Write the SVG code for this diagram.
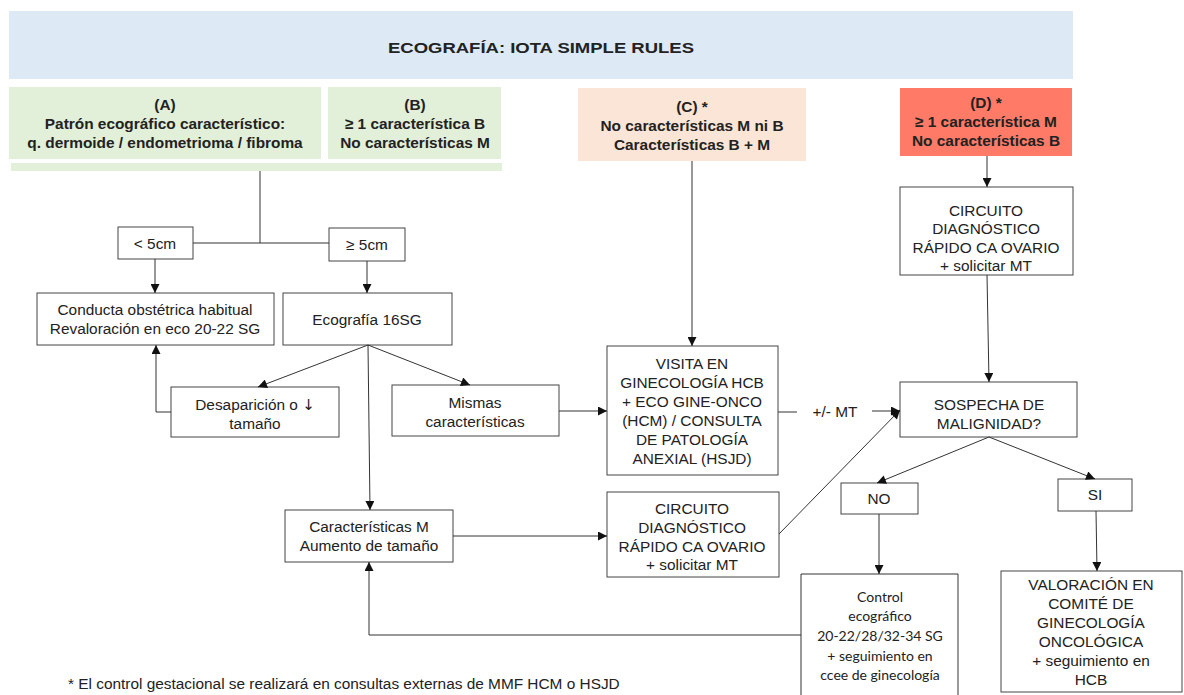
<svg xmlns="http://www.w3.org/2000/svg" width="1184" height="695" viewBox="0 0 1184 695">
<defs>
<marker id="ah" viewBox="0 0 10 10" refX="10" refY="5" markerWidth="10" markerHeight="9" orient="auto" markerUnits="userSpaceOnUse"><path d="M0,0 L10,5 L0,10 z" fill="#111"/></marker>
</defs>
<style>
text{font-family:"Liberation Sans",Arial,sans-serif;font-size:15.4px;fill:#222;text-anchor:middle}
.b{font-weight:bold}
.box{fill:#fff;stroke:#444;stroke-width:1}
.ln{fill:none;stroke:#333;stroke-width:1}
.cal{font-family:Lato,"Liberation Sans",sans-serif;font-size:14px}
</style>
<rect width="1184" height="695" fill="#fff"/>

<g id="title">
<rect x="9" y="11" width="1064" height="68" fill="#dde9f5"/>
<text x="541" y="53" class="b" font-size="19" textLength="306" lengthAdjust="spacingAndGlyphs">ECOGRAFÍA: IOTA SIMPLE RULES</text>
</g>

<g id="nodeA">
<rect x="9" y="87" width="312" height="72" fill="#e2efd9"/>
<text x="165" y="110" class="b">(A)</text>
<text x="165" y="129" class="b">Patrón ecográfico característico:</text>
<text x="165" y="148" class="b">q. dermoide / endometrioma / fibroma</text>
</g>
<g id="nodeB">
<rect x="328" y="87" width="173" height="72" fill="#e2efd9"/>
<text x="415" y="110" class="b">(B)</text>
<text x="415" y="129" class="b">≥ 1 característica B</text>
<text x="415" y="148" class="b">No características M</text>
</g>
<g id="strip">
<rect x="11" y="163" width="491" height="8" fill="#e2efd9"/>
</g>
<g id="nodeC">
<rect x="578" y="88" width="228" height="73" fill="#fbe5d6"/>
<text x="692" y="112" class="b">(C) *</text>
<text x="692" y="131" class="b">No características M ni B</text>
<text x="692" y="150" class="b">Características B + M</text>
</g>
<g id="nodeD">
<rect x="900" y="88" width="172" height="68" fill="#ff7b67"/>
<text x="986" y="108" class="b">(D) *</text>
<text x="986" y="127" class="b">≥ 1 característica M</text>
<text x="986" y="146" class="b">No características B</text>
</g>

<g id="lt5">
<rect class="box" x="118" y="227" width="75" height="32"/>
<text x="155" y="249">&lt; 5cm</text>
</g>
<g id="ge5">
<rect class="box" x="329" y="228" width="76" height="33"/>
<text x="367" y="250">≥ 5cm</text>
</g>
<g id="conducta">
<rect class="box" x="37" y="293" width="237" height="52"/>
<text x="155" y="315">Conducta obstétrica habitual</text>
<text x="155" y="334">Revaloración en eco 20-22 SG</text>
</g>
<g id="eco16">
<rect class="box" x="283" y="293" width="169" height="52"/>
<text x="367" y="325">Ecografía 16SG</text>
</g>
<g id="desap">
<rect class="box" x="171" y="387" width="168" height="50"/>
<text x="255" y="410">Desaparición o <tspan font-family="DejaVu Sans, sans-serif" font-size="15">↓</tspan></text>
<text x="255" y="429">tamaño</text>
</g>
<g id="mismas">
<rect class="box" x="392" y="385" width="167" height="51"/>
<text x="475" y="408">Mismas</text>
<text x="475" y="427">características</text>
</g>
<g id="visita">
<rect class="box" x="607" y="346" width="171" height="129"/>
<text x="692" y="369">VISITA EN</text>
<text x="692" y="388">GINECOLOGÍA HCB</text>
<text x="692" y="407">+ ECO GINE-ONCO</text>
<text x="692" y="426">(HCM) / CONSULTA</text>
<text x="692" y="445">DE PATOLOGÍA</text>
<text x="692" y="464">ANEXIAL (HSJD)</text>
</g>
<g id="carM">
<rect class="box" x="285" y="510" width="168" height="52"/>
<text x="369" y="532">Características M</text>
<text x="369" y="551">Aumento de tamaño</text>
</g>
<g id="circMid">
<rect class="box" x="607" y="492" width="172" height="85"/>
<text x="692" y="514">CIRCUITO</text>
<text x="692" y="533">DIAGNÓSTICO</text>
<text x="692" y="552">RÁPIDO CA OVARIO</text>
<text x="692" y="570">+ solicitar MT</text>
</g>
<g id="circD">
<rect class="box" x="900" y="187" width="173" height="88"/>
<text x="986" y="216">CIRCUITO</text>
<text x="986" y="234">DIAGNÓSTICO</text>
<text x="986" y="253">RÁPIDO CA OVARIO</text>
<text x="986" y="271">+ solicitar MT</text>
</g>
<g id="sospecha">
<rect class="box" x="900" y="382" width="177" height="55"/>
<text x="989" y="410">SOSPECHA DE</text>
<text x="989" y="429">MALIGNIDAD?</text>
</g>
<g id="no">
<rect class="box" x="841" y="483" width="77" height="31"/>
<text x="879" y="504">NO</text>
</g>
<g id="si">
<rect class="box" x="1058" y="479" width="74" height="32"/>
<text x="1095" y="500">SI</text>
</g>
<g id="control">
<path class="ln" d="M801,696 V574 H958 V696" stroke="#444"/>
<text class="cal" x="880" y="602">Control</text>
<text class="cal" x="880" y="621">ecográfico</text>
<text class="cal" x="880" y="641">20-22/28/32-34 SG</text>
<text class="cal" x="880" y="661">+ seguimiento en</text>
<text class="cal" x="880" y="680">ccee de ginecología</text>
</g>
<g id="valoracion">
<rect class="box" x="1001" y="571" width="181" height="121"/>
<text x="1091" y="590">VALORACIÓN EN</text>
<text x="1091" y="609">COMITÉ DE</text>
<text x="1091" y="628">GINECOLOGÍA</text>
<text x="1091" y="647">ONCOLÓGICA</text>
<text x="1091" y="666">+ seguimiento en</text>
<text x="1091" y="685">HCB</text>
</g>

<g id="connectors">
<path class="ln" d="M260,171 V243"/>
<path class="ln" d="M193,243 H329"/>
<path class="ln" d="M155,259 V293" marker-end="url(#ah)"/>
<path class="ln" d="M367,261 V293" marker-end="url(#ah)"/>
<path class="ln" d="M368,345 L258,387" marker-end="url(#ah)"/>
<path class="ln" d="M368,345 L470,385" marker-end="url(#ah)"/>
<path class="ln" d="M368,345 L370,510" marker-end="url(#ah)"/>
<path class="ln" d="M171,412 H156 V345" marker-end="url(#ah)"/>
<path class="ln" d="M559,411 H607" marker-end="url(#ah)"/>
<path class="ln" d="M692,161 V346" marker-end="url(#ah)"/>
<path class="ln" d="M778,412 H797"/>
<text x="835" y="417">+/- MT</text>
<path class="ln" d="M872,411 H900" marker-end="url(#ah)"/>
<path class="ln" d="M453,536 H607" marker-end="url(#ah)"/>
<path class="ln" d="M779,534 L900,410" marker-end="url(#ah)"/>
<path class="ln" d="M987,156 V187" marker-end="url(#ah)"/>
<path class="ln" d="M987,275 L989,382" marker-end="url(#ah)"/>
<path class="ln" d="M989,437 L877,483" marker-end="url(#ah)"/>
<path class="ln" d="M989,437 L1095,479" marker-end="url(#ah)"/>
<path class="ln" d="M879,514 V574" marker-end="url(#ah)"/>
<path class="ln" d="M1096,511 L1097,571" marker-end="url(#ah)"/>
<path class="ln" d="M801,635 H369 V562" marker-end="url(#ah)"/>
</g>

<g id="footnote">
<text x="68" y="689" style="text-anchor:start">* El control gestacional se realizará en consultas externas de MMF HCM o HSJD</text>
</g>
</svg>
